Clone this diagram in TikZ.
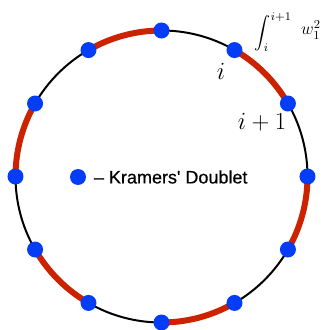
\RequirePackage{fix-cm}
\documentclass[tikz,border=0pt]{standalone}
\usepackage{amsmath}
\usepackage{exscale}
\usepackage{fontspec}
\newfontfamily\legendfont[FakeBold=0.5]{Liberation Sans}
\definecolor{arcred}{RGB}{204,34,0}
\definecolor{dotblue}{RGB}{5,60,245}
\tikzset{kd/.style={circle, fill=dotblue, inner sep=0pt, minimum size=12pt}}
\begin{document}
\begin{tikzpicture}[x=0.75pt, y=0.75pt, line width=1.5pt]
  \useasboundingbox (0,0) rectangle (323,330);
  \coordinate (O) at (161.5,153.5);
  \draw (O) circle (146);
  % every second gap between doublets in red
  \foreach \a in {30,90,...,330}
    \draw[arcred, line width=4.5pt] ([shift={(\a:146)}]O) arc (\a:\a+30:146);
  \foreach \k in {0,...,11}
    \node[kd] (d\k) at ([shift={({30*\k}:146)}]O) {};
  \node[font=\fontsize{18.5}{22}\selectfont, inner sep=0pt] (lbi) at (221,259) {$i$};
  \node[font=\fontsize{18.5}{22}\selectfont, inner sep=0pt] (lbip) at (262,208) {$i+1$};
  \node[font=\fontsize{12.5}{15}\selectfont, inner sep=0pt, anchor=west] (intg) at (254,298) {$\displaystyle\int_i^{i+1}$};
  \node[font=\fontsize{13}{16}\selectfont, inner sep=0pt] (wgt) at (311,300) {$w_1^2$};
  \node[kd] (key) at (78,153) {};
  \node[font=\legendfont\fontsize{13.5}{16}\selectfont, inner sep=0pt, anchor=west] (keytxt) at (93,153) {\textendash{} Kramers\textquotesingle{} Doublet};
\end{tikzpicture}
\end{document}
